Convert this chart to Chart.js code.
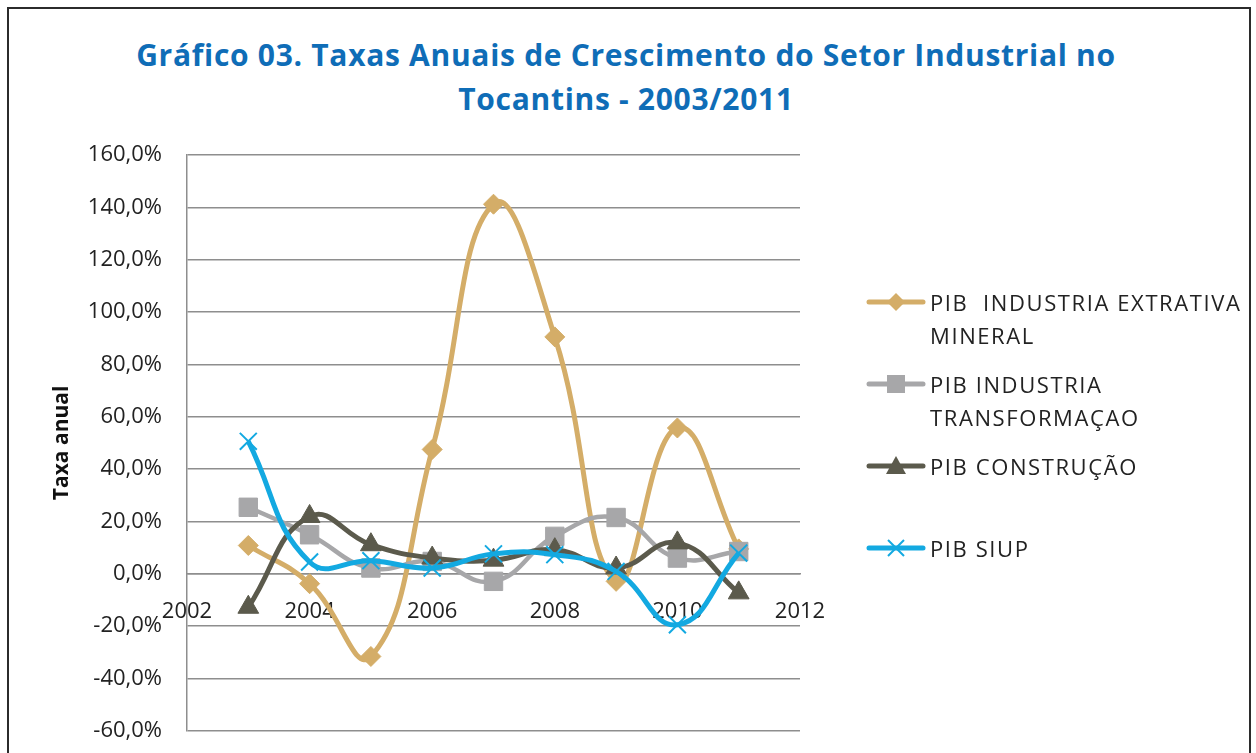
<!DOCTYPE html>
<html>
<head>
<meta charset="utf-8">
<script src="https://cdn.jsdelivr.net/npm/chart.js@4.4.1/dist/chart.umd.min.js"></script>
<style>
    body { margin: 0; background: #fff; width: 1256px; height: 753px; overflow: hidden; position: relative; }
    #frame { position: absolute; left: 7px; top: 7px; width: 1240px; height: 800px; border: 2px solid #2b2b2b; }
    #chart { position: absolute; left: 0; top: 0; }
    #title { position: absolute; left: 0; top: 33px; width: 1252px; text-align: center; color: #0f6db7;
             font-family: "Open Sans", sans-serif; font-weight: 700; font-size: 30px; letter-spacing: 0.7px; line-height: 43.5px; }
    #legend { position: absolute; left: 866px; top: 0; font-family: "Open Sans", sans-serif; font-size: 22px; letter-spacing: 1.6px; color: #222; }
    .lg-item { position: absolute; left: 0; width: 390px; }
    .lg-item svg { position: absolute; left: 0; }
    .lg-item span { position: absolute; left: 64px; white-space: pre; line-height: 33px; }
</style>
</head>
<body>
<div id="frame"></div>
<div id="title"></div>
<canvas id="chart" width="1256" height="769"></canvas>
<div id="legend"></div>
<script>
// Gráfico 03 — taxas anuais de crescimento, setor industrial, Tocantins

const years = [2003, 2004, 2005, 2006, 2007, 2008, 2009, 2010, 2011];
const extrativa = [10.8, -3.8, -31.6, 47.5, 141.2, 90.5, -2.9, 55.7, 9.5];
const transformacao = [25.4, 14.9, 2.2, 4.7, -2.9, 14.3, 21.5, 6.0, 8.5];
const construcao = [-12.8, 21.9, 11.1, 6.0, 5.2, 9.2, 2.2, 11.8, -7.3];
const siup = [50.6, 4.5, 5.0, 2.2, 7.6, 7.3, 0.9, -19.5, 7.9];

const seriesNames = [
    'PIB  INDUSTRIA EXTRATIVA\nMINERAL',
    'PIB INDUSTRIA\nTRANSFORMAÇAO',
    'PIB CONSTRUÇÃO',
    'PIB SIUP',
];
const titleLines = [
    'Gráfico 03. Taxas Anuais de Crescimento do Setor Industrial no',
    'Tocantins - 2003/2011',
];
const yTitle = 'Taxa anual';

// ---- estilos ----
const colors = ['#d4ad68', '#a7a7a9', '#5b5a4c', '#13a9e1'];
const pointStyles = ['rectRot', 'rect', 'triangle', 'crossRot'];
const pointRadius = [10, 13, 12, 12];
const lineWidths = [5, 4.5, 5, 5];
const legendTop = [302, 384, 466, 548]; // centro da linha do marcador
const FONT = '"Open Sans", sans-serif';
const gridColor = '#8e8e8e';

const allSeries = [extrativa, transformacao, construcao, siup];

const datasets = allSeries.map((vals, i) => ({
    label: seriesNames[i].replace('\n', ' '),
    data: years.map((y, k) => ({ x: y, y: vals[k] })),
    borderColor: colors[i],
    backgroundColor: colors[i],
    borderWidth: lineWidths[i],
    tension: 0.45,
    pointStyle: pointStyles[i],
    pointRadius: pointRadius[i],
    pointBackgroundColor: colors[i],
    pointBorderColor: colors[i],
    pointBorderWidth: pointStyles[i] === 'crossRot' ? 2 : 1,
    order: allSeries.length - i, // primeira série fica por baixo (como no Excel)
}));

// título em HTML para ficar centrado na página inteira (não só na área do gráfico)
document.getElementById('title').innerHTML = titleLines.join('<br>');

new Chart(document.getElementById('chart'), {
    type: 'line',
    data: { datasets },
    options: {
        responsive: false,
        animation: false,
        layout: { padding: { left: 10, right: 456, top: 155, bottom: 8 } },
        plugins: {
            legend: { display: false },
            tooltip: { enabled: false },
            title: { display: false },
        },
        scales: {
            x: {
                type: 'linear',
                min: 2002,
                max: 2012,
                position: { y: 0 },
                ticks: {
                    stepSize: 2,
                    color: '#222',
                    font: { family: FONT, size: 22 },
                    padding: 25,
                    maxRotation: 0,
                    callback: (v) => String(v),
                },
                grid: { display: false, drawTicks: false },
                border: { display: true, color: gridColor, width: 1.5 },
                afterFit: (s) => { s.height = 0; },
            },
            y: {
                min: -60,
                max: 160,
                ticks: {
                    stepSize: 20,
                    color: '#222',
                    font: { family: FONT, size: 22 },
                    padding: 25,
                    callback: (v) => v.toFixed(1).replace('.', ',') + '%',
                },
                grid: { color: gridColor, lineWidth: 1.5, drawTicks: false },
                border: { color: gridColor, width: 1.5 },
                title: {
                    display: true,
                    text: yTitle,
                    color: '#111',
                    font: { family: FONT, size: 21, weight: 'bold' },
                    padding: { top: 39, bottom: 0 },
                },
                afterFit: (s) => { s.width = 177; },
            },
        },
    },
});

// ---- legenda em HTML (rótulos em duas linhas) ----
function markerSvg(i) {
    const c = colors[i];
    let shape = '';
    if (pointStyles[i] === 'rectRot') shape = `<polygon points="30,3 39,12 30,21 21,12" fill="${c}"/>`;
    if (pointStyles[i] === 'rect') shape = `<rect x="21" y="3" width="18" height="18" fill="${c}"/>`;
    if (pointStyles[i] === 'triangle') shape = `<polygon points="30,2 40,20 20,20" fill="${c}"/>`;
    if (pointStyles[i] === 'crossRot') shape = `<path d="M22 4 L38 20 M38 4 L22 20" stroke="${c}" stroke-width="2"/>`;
    return `<svg width="60" height="24" viewBox="0 0 60 24">
        <line x1="3" y1="12" x2="57" y2="12" stroke="${c}" stroke-width="5" stroke-linecap="round"/>${shape}</svg>`;
}

const legendEl = document.getElementById('legend');
seriesNames.forEach((name, i) => {
    const item = document.createElement('div');
    item.className = 'lg-item';
    item.style.top = (legendTop[i] - 12) + 'px';
    item.innerHTML = markerSvg(i) + '<span style="top:-4.5px"></span>';
    item.querySelector('span').textContent = name;
    legendEl.appendChild(item);
});
</script>
</body>
</html>
